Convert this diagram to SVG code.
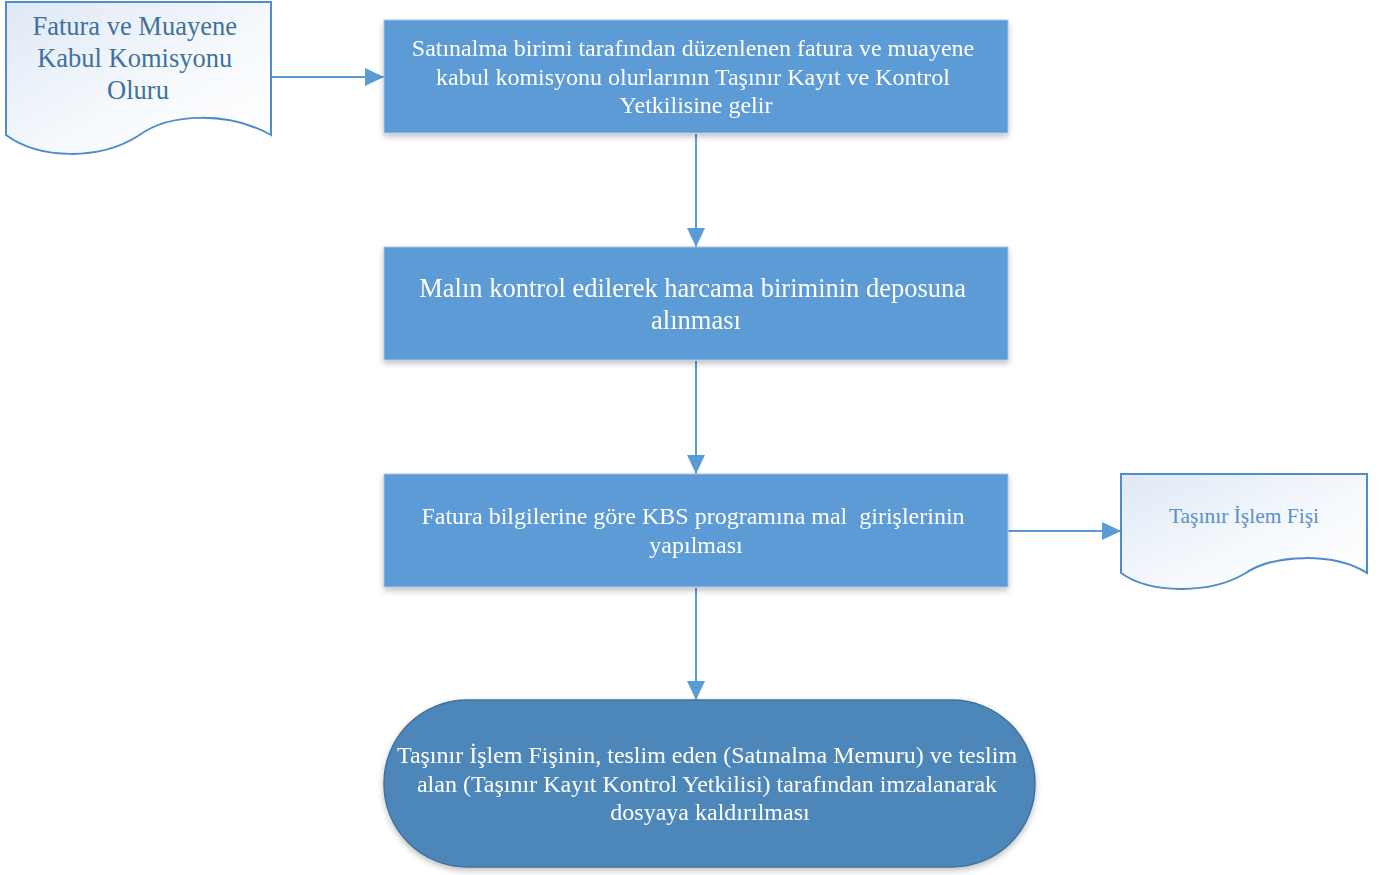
<svg xmlns="http://www.w3.org/2000/svg" width="1394" height="875" viewBox="0 0 1394 875">
  <style>
    .proc { fill: #5B9BD5; stroke: #A9C6E8; stroke-width: 1; }
    .term { fill: #4E87BA; stroke: #41719C; stroke-width: 1.5; }
    .doc { fill: url(#docFill); stroke: #4F8CC9; stroke-width: 2; }
    .link { stroke: #5B9BD5; stroke-width: 2; fill: none; }
    .lbl { text-anchor: middle; font-family: 'Liberation Serif', 'Times New Roman', serif; }
    .white { fill: #FFFFFF; }
  </style>
  <defs>
    <linearGradient id="docFill" x1="0" y1="0" x2="1" y2="1">
      <stop offset="0" stop-color="#DFE8F5"/>
      <stop offset="0.6" stop-color="#F7FAFD"/>
      <stop offset="1" stop-color="#FFFFFF"/>
    </linearGradient>
    <filter id="shadow" x="-5%" y="-10%" width="110%" height="130%">
      <feGaussianBlur in="SourceAlpha" stdDeviation="3"/>
      <feOffset dx="0" dy="3" result="b"/>
      <feComponentTransfer><feFuncA type="linear" slope="0.25"/></feComponentTransfer>
      <feMerge><feMergeNode/><feMergeNode in="SourceGraphic"/></feMerge>
    </filter>
    <marker id="arrowL" markerWidth="19" markerHeight="18" refX="19" refY="9" orient="auto" markerUnits="userSpaceOnUse">
      <path d="M0,0 L19,9 L0,18 Z" fill="#5B9BD5"/>
    </marker>
  </defs>

  <!-- connectors -->
  <g id="connectors">
    <line class="link" x1="271" y1="77" x2="384" y2="77" marker-end="url(#arrowL)"/>
    <line class="link" x1="696" y1="134" x2="696" y2="247" marker-end="url(#arrowL)"/>
    <line class="link" x1="696" y1="361" x2="696" y2="474" marker-end="url(#arrowL)"/>
    <line class="link" x1="1008" y1="531" x2="1121" y2="531" marker-end="url(#arrowL)"/>
    <line class="link" x1="696" y1="588" x2="696" y2="700" marker-end="url(#arrowL)"/>
  </g>

  <!-- source document -->
  <g id="doc-fatura">
    <path class="doc" d="M6,2 H271 V135 C230,112 170,112 138,136 C100,160 40,160 6,135 Z"/>
    <text class="lbl" fill="#41719C" font-size="26.5">
      <tspan x="138" y="35">Fatura ve Muayene</tspan>
      <tspan x="138" y="67">Kabul Komisyonu</tspan>
      <tspan x="138" y="99">Oluru</tspan>
    </text>
  </g>

  <g id="step-receive" filter="url(#shadow)">
    <rect class="proc" x="384" y="20" width="624" height="113"/>
    <text class="lbl white" font-size="24">
      <tspan x="696" y="56">Satınalma birimi tarafından düzenlenen fatura ve muayene</tspan>
      <tspan x="696" y="85">kabul komisyonu olurlarının Taşınır Kayıt ve Kontrol</tspan>
      <tspan x="696" y="113">Yetkilisine gelir</tspan>
    </text>
  </g>

  <g id="step-store" filter="url(#shadow)">
    <rect class="proc" x="384" y="247" width="624" height="113"/>
    <text class="lbl white" font-size="26.5">
      <tspan x="696" y="297">Malın kontrol edilerek harcama biriminin deposuna</tspan>
      <tspan x="696" y="329">alınması</tspan>
    </text>
  </g>

  <g id="step-kbs" filter="url(#shadow)">
    <rect class="proc" x="384" y="474" width="624" height="113"/>
    <text class="lbl white" font-size="24">
      <tspan x="696" y="524">Fatura bilgilerine göre KBS programına mal&#160; girişlerinin</tspan>
      <tspan x="696" y="553">yapılması</tspan>
    </text>
  </g>

  <!-- output document -->
  <g id="doc-fis">
    <path class="doc" d="M1121,474 H1367 V573 C1335,553 1275,553 1244,574 C1210,594 1150,594 1121,573 Z"/>
    <text class="lbl" fill="#5B8FCB" font-size="21.5">
      <tspan x="1244" y="523">Taşınır İşlem Fişi</tspan>
    </text>
  </g>

  <g id="step-archive" filter="url(#shadow)">
    <rect class="term" x="384" y="700" width="651" height="167" rx="83" ry="83"/>
    <text class="lbl white" font-size="24">
      <tspan x="710" y="763">Taşınır İşlem Fişinin, teslim eden (Satınalma Memuru) ve teslim</tspan>
      <tspan x="710" y="792">alan (Taşınır Kayıt Kontrol Yetkilisi) tarafından imzalanarak</tspan>
      <tspan x="710" y="820">dosyaya kaldırılması</tspan>
    </text>
  </g>
</svg>
